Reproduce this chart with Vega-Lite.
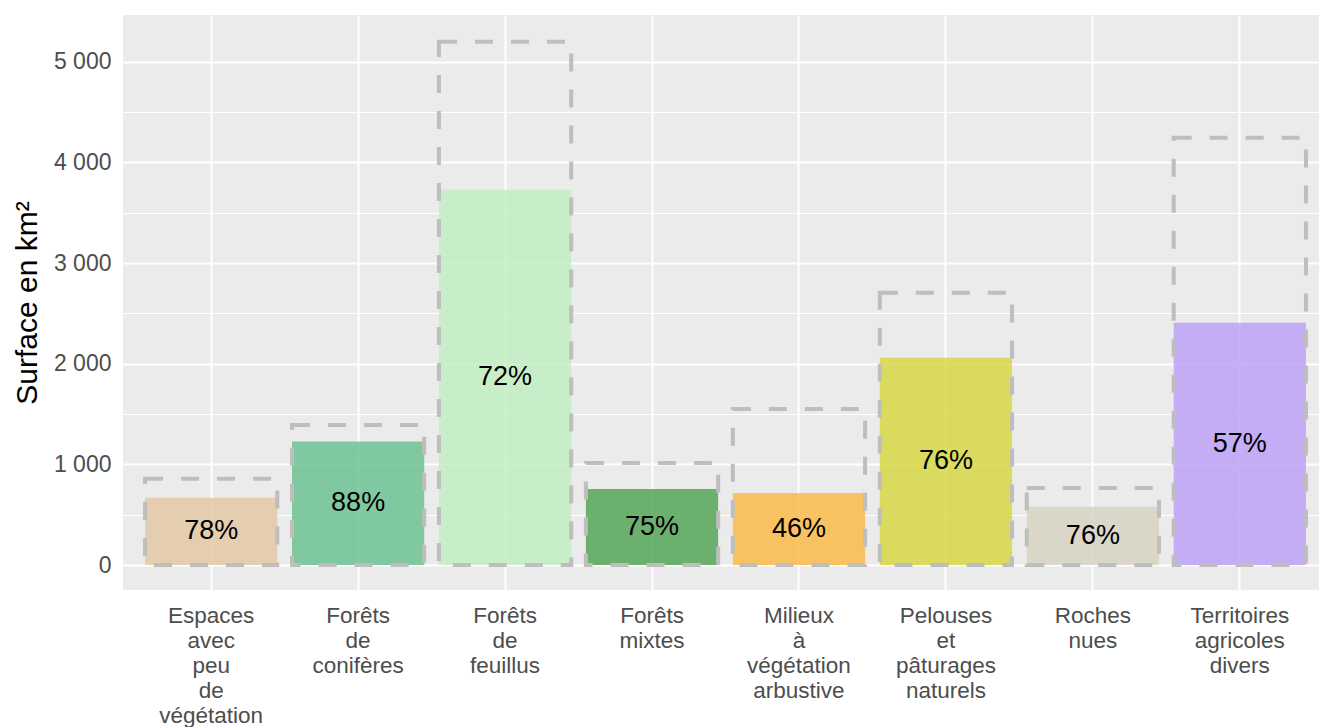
{
  "$schema": "https://vega.github.io/schema/vega-lite/v6.json",
  "width": 1196,
  "height": 575,
  "autosize": {"type": "none"},
  "padding": {"left": 123, "top": 15, "right": 0, "bottom": 137},
  "background": "white",
  "config": {
    "font": "Liberation Sans",
    "view": {"fill": "#EBEBEB", "stroke": null},
    "axis": {"domain": false, "ticks": false, "gridColor": "white", "labelColor": "#4D4D4D", "labelFont": "Liberation Sans", "titleFont": "Liberation Sans"}
  },
  "data": {
    "values": [
      {"cat": "Espaces avec peu de végétation", "value": 669, "total": 858, "pct": "78%"},
      {"cat": "Forêts de conifères", "value": 1226, "total": 1392, "pct": "88%"},
      {"cat": "Forêts de feuillus", "value": 3728, "total": 5199, "pct": "72%"},
      {"cat": "Forêts mixtes", "value": 755, "total": 1014, "pct": "75%"},
      {"cat": "Milieux à végétation arbustive", "value": 716, "total": 1551, "pct": "46%"},
      {"cat": "Pelouses et pâturages naturels", "value": 2058, "total": 2704, "pct": "76%"},
      {"cat": "Roches nues", "value": 580, "total": 765, "pct": "76%"},
      {"cat": "Territoires agricoles divers", "value": 2406, "total": 4245, "pct": "57%"}
    ]
  },
  "encoding": {
    "x": {
      "field": "cat", "type": "nominal", "sort": null,
      "scale": {"range": [0, 1205], "paddingInner": 0.1, "paddingOuter": 0.15},
      "axis": {"title": null, "labelAngle": 0, "labelFontSize": 22.5, "labelLineHeight": 25, "labelPadding": 14, "labelBaseline": "top", "labelExpr": "split(datum.label, ' ')", "grid": true, "gridWidth": 2, "bandPosition": 0.5, "labelLimit": 300, "labelOverlap": false}
    }
  },
  "layer": [
    {
      "mark": {"type": "bar", "opacity": 0.85},
      "encoding": {
        "y": {
          "field": "value", "type": "quantitative",
          "scale": {"domain": [-248, 5464], "nice": false, "zero": false},
          "axis": {
            "title": "Surface en km²", "titleFontSize": 30, "titleFontWeight": "normal", "titleColor": "black", "titlePadding": 11,
            "values": [0, 500, 1000, 1500, 2000, 2500, 3000, 3500, 4000, 4500, 5000],
            "labelFontSize": 23, "labelPadding": 12,
            "labelExpr": "datum.value % 1000 === 0 ? replace(format(datum.value, ','), ',', ' ') : ''",
            "gridWidth": {"expr": "datum.value % 1000 === 0 ? 2 : 1"}
          }
        },
        "color": {
          "field": "cat", "type": "nominal", "legend": null,
          "scale": {
            "domain": ["Espaces avec peu de végétation", "Forêts de conifères", "Forêts de feuillus", "Forêts mixtes", "Milieux à végétation arbustive", "Pelouses et pâturages naturels", "Roches nues", "Territoires agricoles divers"],
            "range": ["#E4C8A6", "#6DC393", "#C2EFC3", "#56A658", "#FABB4A", "#D7D745", "#D7D3C2", "#BDA2F7"]
          }
        }
      }
    },
    {
      "mark": {"type": "bar", "fill": null, "fillOpacity": 0, "stroke": "#BEBEBE", "strokeWidth": 4, "strokeDash": [18, 18]},
      "encoding": {
        "y": {"field": "total", "type": "quantitative"}
      }
    },
    {
      "transform": [{"calculate": "datum.value / 2", "as": "mid"}],
      "mark": {"type": "text", "fontSize": 27, "color": "black", "baseline": "middle", "align": "center"},
      "encoding": {
        "y": {"field": "mid", "type": "quantitative"},
        "text": {"field": "pct"}
      }
    }
  ]
}
